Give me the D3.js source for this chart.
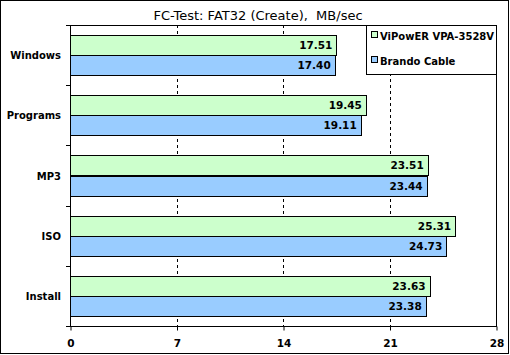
<!DOCTYPE html>
<html><head><meta charset="utf-8">
<script src="https://cdn.jsdelivr.net/npm/d3@7"></script>
<style>body{margin:0;background:#fff}svg{display:block}text{font-family:"DejaVu Sans",Verdana,sans-serif}</style>
</head><body><svg id="c" width="510" height="355"></svg>
<script>
const title = "FC-Test: FAT32 (Create),  MB/sec";
const categories = ["Windows","Programs","MP3","ISO","Install"];
const seriesNames = ["ViPowER VPA-3528V","Brando Cable"];
const viPower = [17.51,19.45,23.51,25.31,23.63];
const brando = [17.40,19.11,23.44,24.73,23.38];
const xTicks = [0,7,14,21,28];
const colors = ["#CCFFCC","#99CCFF"];

const svg = d3.select("#c");
const L=70,R=496,T=25,B=326;
svg.append("rect").attr("x",0.5).attr("y",0.5).attr("width",508).attr("height",353).attr("fill","#fff").attr("stroke","#000");
const x = d3.scaleLinear().domain([0,28]).range([L,R]);
const y = d3.scaleBand().domain(categories).range([T,B]);
const inner = d3.scaleBand().domain([0,1]).range([y.bandwidth()/6, y.bandwidth()*5/6]);

svg.append("text").attr("x",258).attr("y",20).attr("text-anchor","middle").attr("font-size",13)
 .style("white-space","pre").text(title);

// grid
svg.selectAll("line.grid").data(xTicks.slice(1,-1)).join("line")
 .attr("x1",d=>Math.round(x(d))+0.5).attr("x2",d=>Math.round(x(d))+0.5)
 .attr("y1",T).attr("y2",B).attr("stroke","#000").attr("stroke-dasharray","3,3");

// bars
const data = [];
categories.forEach((c,i)=>{ [viPower[i],brando[i]].forEach((v,s)=>data.push({c,s,v})); });
svg.selectAll("rect.bar").data(data).join("rect")
 .attr("x",L+0.5).attr("y",d=>Math.round(y(d.c)+inner(d.s))+0.5)
 .attr("width",d=>Math.round(x(d.v)-L)).attr("height",Math.round(inner.bandwidth()))
 .attr("fill",d=>colors[d.s]).attr("stroke","#000");
svg.selectAll("text.val").data(data).join("text")
 .attr("x",d=>x(d.v)-4).attr("y",d=>y(d.c)+inner(d.s)+inner.bandwidth()/2+4)
 .attr("text-anchor","end").attr("font-size",10.5).attr("font-weight","bold").text(d=>d.v.toFixed(2));

// plot frame
svg.append("rect").attr("x",L+0.5).attr("y",T+0.5).attr("width",R-L).attr("height",B-T).attr("fill","none").attr("stroke","#000");

// axes
const xa = svg.append("g").attr("transform",`translate(0.5,${B+0.5})`)
 .call(d3.axisBottom(x).tickValues(xTicks).tickSize(4).tickSizeOuter(0));
xa.select(".domain").remove();
xa.selectAll("text").attr("font-size",10.5).attr("font-weight","bold").attr("font-family","DejaVu Sans").attr("dy","1.25em");
const bounds = categories.map(c=>y(c)).concat([B]);
svg.selectAll("line.yt").data(bounds).join("line")
 .attr("x1",L-4).attr("x2",L).attr("y1",d=>Math.round(d)+0.5).attr("y2",d=>Math.round(d)+0.5).attr("stroke","#000");
svg.selectAll("text.cat").data(categories).join("text")
 .attr("x",L-9).attr("y",d=>y(d)+y.bandwidth()/2+4).attr("text-anchor","end")
 .attr("font-size",10).attr("font-weight","bold").text(d=>d);

// legend
const lg = svg.append("g");
lg.append("rect").attr("x",366.5).attr("y",T+0.5).attr("width",R-366).attr("height",49).attr("fill","#fff").attr("stroke","#000");
seriesNames.forEach((n,i)=>{
  const cy = 36 + i*25;
  lg.append("rect").attr("x",371.5).attr("y",cy-4.5).attr("width",6).attr("height",6).attr("fill",colors[i]).attr("stroke","#000");
  lg.append("text").attr("x",380).attr("y",cy+3.5).attr("font-size",10).attr("font-weight","bold").text(n);
});
</script></body></html>
